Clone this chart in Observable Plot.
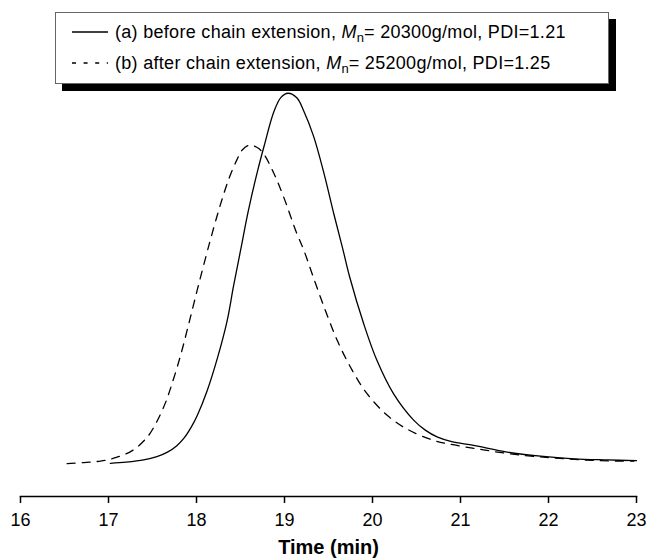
<!DOCTYPE html>
<html><head><meta charset="utf-8">
<script src="https://cdn.jsdelivr.net/npm/d3@7"></script>
<script src="https://cdn.jsdelivr.net/npm/@observablehq/plot@0.6"></script>
<style>
body{margin:0;background:#fff;font-family:"Liberation Sans",Arial,sans-serif;}
#wrap{position:relative;width:647px;height:560px;}
#legend{position:absolute;left:55px;top:12px;width:552px;height:70px;border:1px solid #666;background:#fff;box-shadow:7px 7px 0 #000;}
.row{position:absolute;left:0;height:24px;font-size:18px;letter-spacing:0.3px;line-height:24px;white-space:nowrap;color:#000;}
.row svg{position:absolute;left:16px;top:0;}
.row span{position:absolute;left:59px;top:0;}
.row sub{font-size:13px;vertical-align:-4px;line-height:0;letter-spacing:0;}
</style></head>
<body><div id="wrap"></div>
<script>
// Series (a): before chain extension
const timeA = [17.02,17.20,17.40,17.55,17.67,17.78,17.86,17.94,18.01,18.12,18.24,18.35,18.42,18.50,18.59,18.69,18.77,18.88,18.96,19.04,19.14,19.22,19.33,19.45,19.56,19.66,19.74,19.90,20.05,20.24,20.47,20.60,20.74,20.90,21.15,21.53,21.91,22.29,22.67,23.00];
const signalA = [0.6,0.9,1.5,2.4,3.6,5.4,7.4,10.3,13.5,20.0,29.0,39.0,48.0,57.6,68.4,78.6,85.8,94.9,98.7,99.8,98.6,95.0,88.3,78.2,67.5,58.3,50.6,38.0,28.2,19.2,12.1,9.5,7.6,6.4,5.4,3.6,2.5,1.8,1.5,1.3];
// Series (b): after chain extension
const timeB = [16.53,16.72,16.91,17.08,17.27,17.44,17.55,17.65,17.72,17.82,17.91,18.01,18.11,18.16,18.27,18.37,18.46,18.52,18.60,18.68,18.75,18.88,18.99,19.14,19.22,19.32,19.45,19.60,19.77,19.94,20.17,20.39,20.70,20.96,21.26,21.64,22.02,22.40,22.78,22.97];
const signalB = [0.5,0.8,1.2,2.1,4.0,7.6,11.8,17.0,21.8,29.6,37.8,47.2,56.3,60.7,69.8,77.0,82.0,84.6,85.9,85.4,84.0,78.3,72.0,62.2,57.7,51.0,42.5,33.5,25.5,19.2,13.4,9.8,6.7,5.4,4.2,2.9,2.1,1.5,1.2,1.2];
const xTicks = [16,17,18,19,20,21,22,23];
const xLabel = "Time (min)";
const legendNames = ["(a) before chain extension, ", "(b) after chain extension, "];
const legendMn = ["20300g/mol", "25200g/mol"];
const legendPDI = ["1.21", "1.25"];
const dashes = ["", "4,7.6"];

const dataA = timeA.map((t,i)=>({t, v: signalA[i]}));
const dataB = timeB.map((t,i)=>({t, v: signalB[i]}));

const plot = Plot.plot({
  width: 647, height: 560,
  marginLeft: 20, marginRight: 11, marginTop: 92, marginBottom: 64,
  x: {domain: [16, 23]},
  y: {domain: [-8.3, 100], axis: null},
  style: {fontFamily: '"Liberation Sans", Arial, sans-serif', fontSize: "18px", color: "#000", background: "#fff"},
  marks: [
    Plot.frame({anchor: "bottom", stroke: "#000", strokeWidth: 1.5}),
    Plot.line(dataA, {x: "t", y: "v", stroke: "#000", strokeWidth: 1.3, curve: "catmull-rom"}),
    Plot.line(dataB, {x: "t", y: "v", stroke: "#000", strokeWidth: 1.3, strokeDasharray: "8,7", curve: "catmull-rom"}),
    Plot.axisX({ticks: xTicks, tickSize: 7, tickPadding: 10, tickFormat: d => String(d), label: xLabel, labelAnchor: "center", labelArrow: "none", labelOffset: 57, fontSize: 18, stroke: "#000", strokeWidth: 1.5})
  ]
});
const wrap = document.getElementById("wrap");
wrap.appendChild(plot);
const lab = plot.querySelector('[aria-label="x-axis label"]');
if (lab) { lab.setAttribute("font-weight", "bold"); lab.setAttribute("font-size", "20"); }

const legend = document.createElement("div");
legend.id = "legend";
legendNames.forEach((n, i) => {
  const row = document.createElement("div");
  row.className = "row";
  row.style.top = (7 + i * 31) + "px";
  row.style.width = "552px";
  row.innerHTML = `<svg width="37" height="24"><line x1="0" x2="36" y1="12" y2="12" stroke="#000" stroke-width="1.3" ${dashes[i] ? `stroke-dasharray="${dashes[i]}"` : ""}/></svg><span>${n}<i>M</i><sub>n</sub>= ${legendMn[i]}, PDI=${legendPDI[i]}</span>`;
  legend.appendChild(row);
});
wrap.appendChild(legend);
</script>
</body></html>
